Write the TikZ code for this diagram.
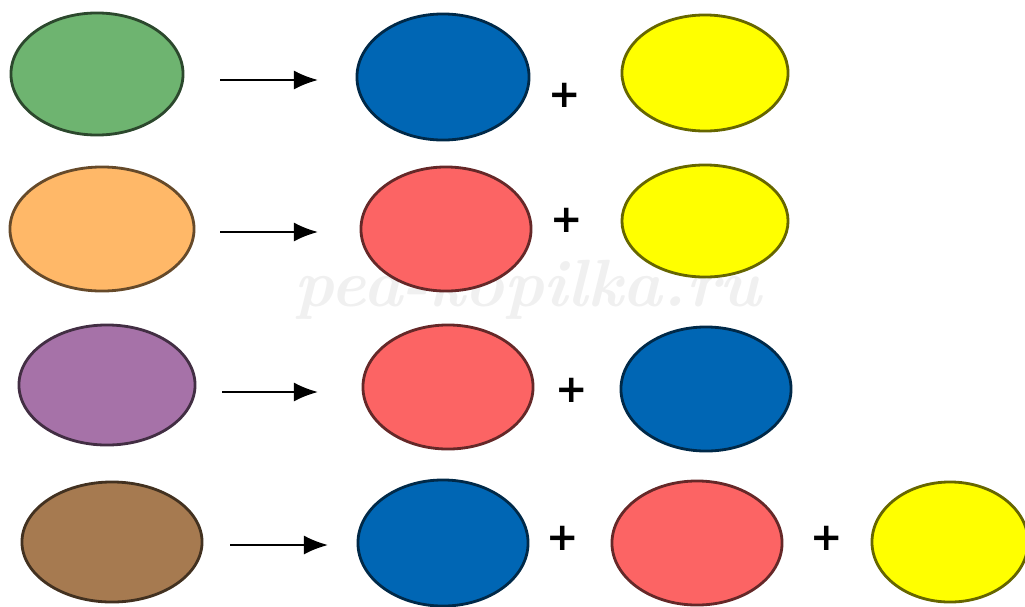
\documentclass[tikz,border=0pt]{standalone}
\usepackage{fontspec}
\usepackage{tikz}
\usetikzlibrary{positioning, arrows.meta, shapes.geometric}
\newfontfamily\plusfont{DejaVu Sans}
\definecolor{myGreen}{RGB}{110,180,112}
\definecolor{myBlue}{RGB}{0,102,180}
\definecolor{myYellow}{RGB}{255,255,0}
\definecolor{myRed}{RGB}{252,100,100}
\definecolor{myOrange}{RGB}{255,184,104}
\definecolor{myPurple}{RGB}{166,114,168}
\definecolor{myBrown}{RGB}{166,122,80}

\begin{document}
\begin{tikzpicture}[
  x=0.01cm, y=-0.01cm,
  blob/.style={ellipse, draw=#1!40!black, fill=#1, line width=0.8pt,
    inner sep=0pt, minimum width=1.72cm, minimum height=1.22cm},
  plus/.style={font=\plusfont\bfseries\fontsize{11}{11}\selectfont},
  arr/.style={-{Latex[length=2.4mm, width=1.9mm]}, line width=0.6pt},
]
  \useasboundingbox (0,0) rectangle (1025,606);

  % watermark
  \node[font=\bfseries\itshape\fontsize{19}{19}\selectfont, text=black!6]
    (mark) at (528,290) {ped-kopilka.ru};

  % green = blue + yellow
  \node[blob=myGreen] (green) at (97,74) {};
  \node[blob=myBlue, minimum height=1.26cm] (blue1) at (443,77) {};
  \node[plus] (p1) at (565,95) {+};
  \node[blob=myYellow, minimum width=1.66cm, minimum height=1.16cm] (yellow1) at (705,73) {};
  \coordinate (a1) at (220,80);
  \coordinate (b1) at (318,80);
  \draw[arr] (a1) -- (b1);

  % orange = red + yellow
  \node[blob=myOrange, minimum width=1.84cm, minimum height=1.24cm] (orange) at (102,229) {};
  \node[blob=myRed, minimum width=1.7cm, minimum height=1.24cm] (red1) at (446,229) {};
  \node[plus] (p2) at (567,220) {+};
  \node[blob=myYellow, minimum width=1.66cm, minimum height=1.12cm] (yellow2) at (705,221) {};
  \coordinate (a2) at (220,232);
  \coordinate (b2) at (318,232);
  \draw[arr] (a2) -- (b2);

  % purple = red + blue
  \node[blob=myPurple, minimum width=1.76cm, minimum height=1.2cm] (purple) at (107,385) {};
  \node[blob=myRed, minimum width=1.7cm, minimum height=1.24cm] (red2) at (448,387) {};
  \node[plus] (p3) at (572,390) {+};
  \node[blob=myBlue, minimum width=1.7cm, minimum height=1.24cm] (blue2) at (706,389) {};
  \coordinate (a3) at (222,392);
  \coordinate (b3) at (318,392);
  \draw[arr] (a3) -- (b3);

  % brown = blue + red + yellow
  \node[blob=myBrown, minimum width=1.8cm, minimum height=1.2cm] (brown) at (112,542) {};
  \node[blob=myBlue, minimum width=1.7cm, minimum height=1.26cm] (blue3) at (443,543) {};
  \node[plus] (p4) at (563,538) {+};
  \node[blob=myRed, minimum width=1.7cm, minimum height=1.24cm] (red3) at (697,543) {};
  \node[plus] (p5) at (827,538) {+};
  \node[blob=myYellow, minimum width=1.56cm, minimum height=1.2cm] (yellow3) at (950,542) {};
  \coordinate (a4) at (230,545);
  \coordinate (b4) at (328,545);
  \draw[arr] (a4) -- (b4);
\end{tikzpicture}
\end{document}
